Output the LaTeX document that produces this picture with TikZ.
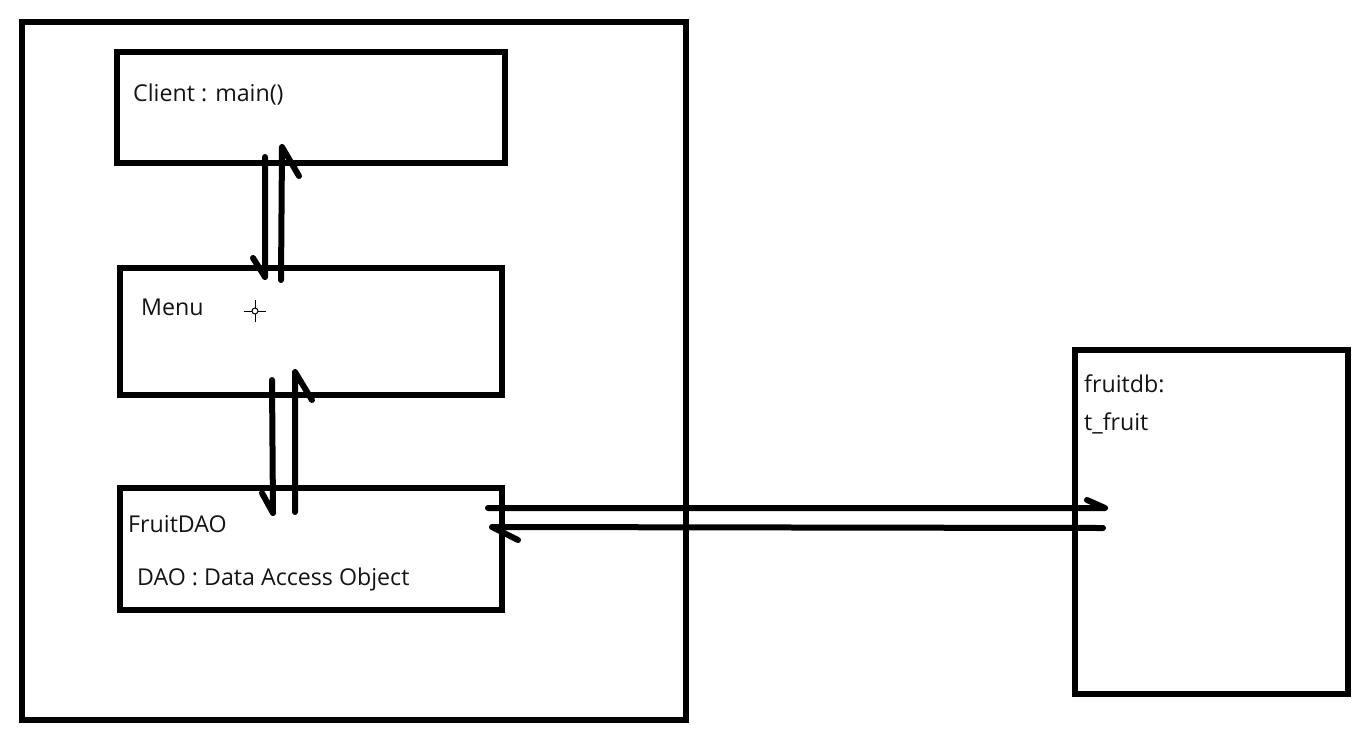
\documentclass[tikz,border=0pt]{standalone}
\usepackage{fontspec}
\setmainfont{Open Sans}
\usepackage{xcolor}
\definecolor{inkblack}{RGB}{0,0,0}
\definecolor{labelgray}{RGB}{20,20,20}

\tikzset{
  frame/.style={draw=inkblack, line width=6pt, rectangle, anchor=north west, inner sep=0pt, outer sep=0pt},
  wire/.style={draw=inkblack, line width=6pt, line cap=round, line join=round},
  label/.style={anchor=base west, inner sep=0pt, text=labelgray, font=\fontsize{23.2}{27}\selectfont}
}

\begin{document}
\begin{tikzpicture}[x=1pt, y=-1pt]
    \useasboundingbox (0,0) rectangle (1358,732);

    % application side
    \node[frame, minimum width=664pt, minimum height=698pt] (app) at (22,22) {};
    \node[frame, minimum width=388pt, minimum height=111pt] (client) at (117,52) {};
    \node[frame, minimum width=382pt, minimum height=127pt] (menu) at (120,268) {};
    \node[frame, minimum width=382pt, minimum height=122pt] (dao) at (120,488) {};

    % database side
    \node[frame, minimum width=273pt, minimum height=344pt] (db) at (1075,350) {};

    \node[label] (clienttext) at (133,101) {Client : main()};
    \node[label] (menutext) at (141,315) {Menu};
    \node[label] (daotext) at (128,532) {FruitDAO};
    \node[label] (daofull) at (137,585) {DAO : Data Access Object};
    \node[label] (dbname) at (1084,392) {fruitdb:};
    \node[label] (dbtable) at (1084,430) {t\_fruit};

    % cursor mark next to Menu
    \coordinate (cursor) at (255,311);
    \draw[inkblack, line width=1pt] (cursor) circle (3pt);
    \draw[inkblack, line width=1pt] ([xshift=-11pt]cursor) -- ([xshift=-3pt]cursor)
      ([xshift=3pt]cursor) -- ([xshift=11pt]cursor)
      ([yshift=-11pt]cursor) -- ([yshift=-3pt]cursor)
      ([yshift=3pt]cursor) -- ([yshift=11pt]cursor);

    % client <-> menu
    \coordinate (cm-top) at (265,157);
    \coordinate (cm-bot) at (265,277);
    \coordinate (mc-bot) at (281,280);
    \coordinate (mc-top) at (282,147);
    \draw[wire] (cm-top) -- (cm-bot) -- ++(-12,-19);
    \draw[wire] (mc-bot) -- (mc-top) -- ++(17,29);

    % menu <-> dao
    \coordinate (md-top) at (272,380);
    \coordinate (md-bot) at (273,513);
    \coordinate (dm-bot) at (295,512);
    \coordinate (dm-top) at (295,372);
    \draw[wire] (md-top) -- (md-bot) -- ++(-11,-20);
    \draw[wire] (dm-bot) -- (dm-top) -- ++(17,28);

    % dao <-> db
    \coordinate (dd-left) at (488,508);
    \coordinate (dd-right) at (1105,508);
    \coordinate (bd-right) at (1103,528);
    \coordinate (bd-left) at (492,527);
    \draw[wire] (dd-left) -- (dd-right) -- ++(-18,-8);
    \draw[wire] (bd-right) -- (bd-left) -- ++(26,13);
\end{tikzpicture}
\end{document}
